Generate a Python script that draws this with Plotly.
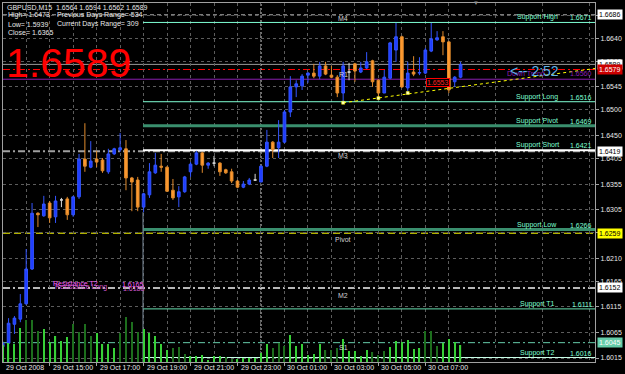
import plotly.graph_objects as go

# ---------------- data ----------------
bars = list(range(79))  # M15 bars from 29 Oct 2008 13:00
opens = [1.6037,1.6044,1.6081,1.6091,1.6121,1.6189,1.6298,1.6293,1.6318,1.6291,
         1.6324,1.6326,1.6295,1.6330,1.6404,1.6388,1.6404,1.6402,1.6379,1.6414,
         1.6422,1.6424,1.6367,1.6363,1.6310,1.6334,1.6377,1.6390,1.6388,1.6343,
         1.6330,1.6340,1.6379,1.6394,1.6416,1.6392,1.6396,1.6396,1.6383,1.6379,
         1.6361,1.6349,1.6355,1.6363,1.6359,1.6390,1.6437,1.6426,1.6437,1.6496,
         1.6545,1.6547,1.6568,1.6572,1.6566,1.6586,1.6568,1.6564,1.6533,1.6574,
         1.6590,1.6574,1.6582,1.6596,1.6558,1.6533,1.6562,1.6617,1.6643,1.6543,
         1.6574,1.6572,1.6572,1.6615,1.6637,1.6643,1.6633,1.6555,1.6564]
highs = [1.6048,1.6093,1.6097,1.6140,1.6228,1.6318,1.6300,1.6332,1.6322,1.6332,
         1.6328,1.6330,1.6332,1.6414,1.6474,1.6439,1.6420,1.6406,1.6424,1.6426,
         1.6455,1.6441,1.6369,1.6369,1.6338,1.6396,1.6416,1.6414,1.6390,1.6365,
         1.6351,1.6371,1.6398,1.6420,1.6418,1.6398,1.6410,1.6398,1.6385,1.6385,
         1.6363,1.6361,1.6367,1.6375,1.6392,1.6461,1.6439,1.6480,1.6500,1.6566,
         1.6558,1.6570,1.6574,1.6590,1.6594,1.6594,1.6586,1.6568,1.6594,1.6592,
         1.6592,1.6594,1.6613,1.6598,1.6560,1.6578,1.6633,1.6670,1.6645,1.6594,
         1.6605,1.6603,1.6621,1.6670,1.6654,1.6654,1.6635,1.6566,1.6594]
lows = [1.6033,1.6042,1.6062,1.6085,1.6119,1.6187,1.6271,1.6291,1.6279,1.6279,
        1.6310,1.6285,1.6291,1.6326,1.6379,1.6386,1.6388,1.6377,1.6375,1.6412,
        1.6418,1.6343,1.6302,1.6302,1.6300,1.6328,1.6375,1.6379,1.6340,1.6324,
        1.6310,1.6338,1.6369,1.6392,1.6377,1.6385,1.6390,1.6371,1.6375,1.6357,
        1.6347,1.6347,1.6353,1.6361,1.6359,1.6388,1.6406,1.6406,1.6435,1.6486,
        1.6525,1.6539,1.6553,1.6562,1.6560,1.6568,1.6562,1.6525,1.6514,1.6558,
        1.6555,1.6572,1.6580,1.6545,1.6523,1.6533,1.6560,1.6594,1.6543,1.6533,
        1.6566,1.6568,1.6570,1.6613,1.6635,1.6607,1.6533,1.6545,1.6562]
closes = [1.6044,1.6083,1.6093,1.6121,1.6189,1.6298,1.6295,1.6316,1.6289,1.6322,
          1.6324,1.6295,1.6330,1.6404,1.6390,1.6400,1.6398,1.6381,1.6414,1.6424,
          1.6426,1.6367,1.6359,1.6310,1.6336,1.6379,1.6392,1.6388,1.6341,1.6328,
          1.6340,1.6369,1.6394,1.6416,1.6392,1.6396,1.6396,1.6379,1.6377,1.6361,
          1.6349,1.6355,1.6363,1.6363,1.6390,1.6437,1.6422,1.6437,1.6496,1.6545,
          1.6551,1.6566,1.6572,1.6566,1.6586,1.6570,1.6564,1.6533,1.6586,1.6574,
          1.6576,1.6582,1.6594,1.6555,1.6533,1.6564,1.6631,1.6643,1.6545,1.6572,
          1.6570,1.6573,1.6617,1.6639,1.6641,1.6633,1.6539,1.6564,1.6589]
volumes = [170,190,180,340,420,420,310,330,200,260,
           210,250,380,300,380,260,290,180,180,140,
           290,450,400,300,330,290,260,180,120,140,
           150,80,60,60,70,20,60,60,50,30,
           30,40,40,40,90,180,140,190,160,270,
           160,180,70,80,180,120,120,140,230,110,
           110,60,120,100,70,110,150,210,200,220,
           130,140,310,310,160,190,230,200,170]
vol_dark_bars = [4,5,6,12,13,14,15,20,21,22,23,29,30,31,38,39,46,47,48,55,56,57,63,64,65,72,73,74]

time_label_bars = [0, 8, 16, 24, 32, 40, 48, 56, 64, 72]
time_labels = ["29 Oct 2008", "29 Oct 15:00", "29 Oct 17:00", "29 Oct 19:00", "29 Oct 21:00",
               "29 Oct 23:00", "30 Oct 01:00", "30 Oct 03:00", "30 Oct 05:00", "30 Oct 07:00"]
price_ticks = [1.6685, 1.6640, 1.6595, 1.6545, 1.6500, 1.6450, 1.6405, 1.6355, 1.6305,
               1.6260, 1.6210, 1.6165, 1.6115, 1.6065, 1.6015]

support_names = ["Support High", "Support Long", "Support Pivot", "Support Short",
                 "Support Low", "Support T1", "Support T2"]
support_values = [1.6671, 1.6516, 1.6469, 1.6421, 1.6266, 1.6111, 1.6016]
support_start_bar = 24

pivot_names = ["M4", "R1", "M3", "Pivot", "M2", "S1"]
pivot_label_prices = [1.6678, 1.6570, 1.6410, 1.6246, 1.6138, 1.6036]
pivot_label_bar = 58

box_values = [1.6686, 1.6589, 1.6579, 1.6419, 1.6259, 1.6152, 1.6045]

trend_bars = [58, 64, 69]
trend_lows = [1.6514, 1.6523, 1.6533]
trend_end = (100.9, 1.6581)

down_trend_value = 1.6560
price_label_value = 1.6553
price_label_bar = 74.1
day_separator_bar = 44

# ---------------- geometry ----------------
W, H = 625, 374
PL, PR, PT, PB = 3, 595, 3, 362
x_min, x_max = 0.05, 100.9
y_min, y_max = 1.60072, 1.67090


def pxx(px):
    return (px - PL) / (PR - PL)


def pxy(py):
    return (PB - py) / (PB - PT)


FONT = "Tahoma, Liberation Sans, Arial, sans-serif"
fig = go.Figure()

# volume (bottom histogram)
vol_colors = ["#1d6e1d" if i in vol_dark_bars else "#38d038" for i in bars]
fig.add_trace(go.Bar(x=bars, y=volumes, yaxis="y2", width=0.2,
                     marker=dict(color=vol_colors, line=dict(width=0)),
                     hoverinfo="skip"))

# regular candles / doji candles
is_doji = [o == c for o, c in zip(opens, closes)]
def pick(vals, keep):
    return [v if k else None for v, k in zip(vals, keep)]
not_doji = [not d for d in is_doji]
fig.add_trace(go.Candlestick(
    x=bars, open=pick(opens, not_doji), high=pick(highs, not_doji),
    low=pick(lows, not_doji), close=pick(closes, not_doji),
    increasing=dict(line=dict(color="#3355ff", width=1), fillcolor="#1e3cff"),
    decreasing=dict(line=dict(color="#e08a2c", width=1), fillcolor="#ff9a30"),
    whiskerwidth=0, hoverinfo="skip"))
fig.add_trace(go.Candlestick(
    x=bars, open=pick(opens, is_doji), high=pick(highs, is_doji),
    low=pick(lows, is_doji), close=pick(closes, is_doji),
    increasing=dict(line=dict(color="#d8d8d8", width=1), fillcolor="#d8d8d8"),
    decreasing=dict(line=dict(color="#d8d8d8", width=1), fillcolor="#d8d8d8"),
    whiskerwidth=0, hoverinfo="skip"))

# trend line
fig.add_trace(go.Scatter(x=[trend_bars[0], trend_end[0]], y=[trend_lows[0], trend_end[1]],
                         mode="lines", line=dict(color="#ffff00", width=1, dash="3px,3px"),
                         hoverinfo="skip"))
fig.add_trace(go.Scatter(x=trend_bars, y=trend_lows, mode="markers",
                         marker=dict(symbol="square", size=3, color="#ffffc0",
                                     line=dict(color="#ffff00", width=0.5)),
                         hoverinfo="skip"))

shapes = []
# full width level lines
full_lines = [
    (1.6686, "#a8a8a8", 1, "4px,3px"),
    (1.6589, "#9a9a9a", 1, "solid"),
    (1.6579, "#ff0000", 1, "7px,3px,2px,3px"),
    (down_trend_value, "#8a1fb0", 1, "solid"),
    (1.6419, "#a0a0a0", 2, "7px,3px,2px,3px"),
    (1.6259, "#ffff00", 1, "7px,4px"),
    (1.6152, "#b8b8b8", 2, "7px,3px,2px,3px"),
    (1.6045, "#66cdaa", 1, "7px,3px,2px,3px"),
]
for val, col, w, dash in full_lines:
    shapes.append(dict(type="line", xref="paper", yref="y", x0=0, x1=1, y0=val, y1=val,
                       line=dict(color=col, width=w, dash=dash), layer="between"))

support_styles = [("#7fffd4", 1), ("#7fffd4", 1), ("#3a8f6e", 3), ("#ffffff", 2),
                  ("#3a8f6e", 3), ("#66e0b0", 1), ("#c8ffe8", 1)]
for val, (col, w) in zip(support_values, support_styles):
    shapes.append(dict(type="line", xref="x", yref="y", x0=support_start_bar - 0.1, x1=x_max,
                       y0=val, y1=val, line=dict(color=col, width=w), layer="between"))

# vertical helper lines
shapes.append(dict(type="line", xref="x", yref="paper", x0=day_separator_bar, x1=day_separator_bar,
                   y0=0, y1=1, line=dict(color="#e0e0e0", width=1, dash="2px,2px"), layer="between"))
shapes.append(dict(type="line", xref="x", yref="y", x0=support_start_bar - 0.1, x1=support_start_bar - 0.1,
                   y0=y_min, y1=lows[support_start_bar], line=dict(color="#7a8a9a", width=1),
                   layer="between"))

ann = []
# header
hdr = dict(xref="paper", yref="paper", xanchor="left", yanchor="middle", showarrow=False,
           font=dict(family=FONT, size=7, color="#e8e8e8"))
ann.append(dict(hdr, x=pxx(5), y=pxy(7),
                text=f"GBPUSD,M15  {opens[-1]:.4f} {highs[-1]:.4f} {lows[-1]:.4f} {closes[-1]:.4f}"))
ann.append(dict(hdr, x=pxx(6), y=pxy(15), text="High= 1.6473"))
ann.append(dict(hdr, x=pxx(55), y=pxy(15), text="Previous Days Range= 534"))
ann.append(dict(hdr, x=pxx(6), y=pxy(24), text="Low= 1.5939"))
ann.append(dict(hdr, x=pxx(55), y=pxy(24), text="Current Days Range= 309"))
ann.append(dict(hdr, x=pxx(6), y=pxy(32), text="Close= 1.6365"))

# big price
ann.append(dict(xref="paper", yref="paper", x=pxx(4), y=pxy(63), xanchor="left", yanchor="middle",
                showarrow=False, text=f"{closes[-1]:.4f}",
                font=dict(family="Liberation Sans, Arial", size=41, color="#ff0000")))

# support labels
for name, val in zip(support_names, support_values):
    ann.append(dict(xref="paper", yref="y", x=pxx(537), y=val, xanchor="center", yanchor="bottom",
                    showarrow=False, text=name, yshift=-1,
                    font=dict(family=FONT, size=7, color="#7fffd4")))
    ann.append(dict(xref="paper", yref="y", x=pxx(594), y=val, xanchor="right", yanchor="bottom",
                    showarrow=False, text=f"{val:.4f}", yshift=-1,
                    font=dict(family=FONT, size=7, color="#7fffd4")))

# pivot labels
for name, val in zip(pivot_names, pivot_label_prices):
    ann.append(dict(xref="x", yref="y", x=pivot_label_bar, y=val, xanchor="center", yanchor="middle",
                    showarrow=False, text=name, font=dict(family=FONT, size=7, color="#d0d0d0")))

# right axis price boxes
box_style = {1.6686: ("#ffffff", "#000000"), 1.6589: ("#ffffff", "#000000"),
             1.6579: ("#cc0000", "#ffffff"), 1.6419: ("#ffffff", "#000000"),
             1.6259: ("#ffff00", "#000000"), 1.6152: ("#ffffff", "#000000"),
             1.6045: ("#66cdaa", "#ffffff")}
for val in box_values:
    bg, fg = box_style[val]
    ann.append(dict(xref="paper", yref="y", x=1, y=val, xanchor="left", yanchor="middle",
                    xshift=2, showarrow=False, text=f"{val:.4f}", bgcolor=bg, borderpad=1,
                    font=dict(family=FONT, size=7, color=fg)))

# time labels
for b, t in zip(time_label_bars, time_labels):
    ann.append(dict(xref="x", yref="paper", x=max(b, x_min), y=pxy(367.5), xanchor="left",
                    yanchor="middle", xshift=1, showarrow=False, text=t,
                    font=dict(family=FONT, size=7, color="#e8e8e8")))

# misc texts
ann.append(dict(xref="paper", yref="y", x=pxx(505), y=down_trend_value, xanchor="left",
                yanchor="bottom", showarrow=False, text="Down Trend",
                font=dict(family=FONT, size=7, color="#8a1fb0")))
ann.append(dict(xref="paper", yref="y", x=pxx(594), y=down_trend_value, xanchor="right",
                yanchor="bottom", showarrow=False, text=f"{down_trend_value:.4f}",
                font=dict(family=FONT, size=7, color="#8a1fb0")))
ann.append(dict(xref="paper", yref="paper", x=pxx(534), y=pxy(71), xanchor="center",
                yanchor="middle", showarrow=False, text="<-- 2:52",
                font=dict(family=FONT, size=14, color="#5fb0e8")))
ann.append(dict(xref="x", yref="y", x=price_label_bar, y=price_label_value, xanchor="center",
                yanchor="middle", showarrow=False, text=f"{price_label_value:.4f}",
                bgcolor="#000000", bordercolor="#ff0000", borderwidth=1, borderpad=0,
                font=dict(family=FONT, size=7, color="#ff2020")))
# overlapping magenta labels
for xx, yy, txt, col in [(51, 283, "Resistance T2", "#ff66ff"), (53, 287, "Resistance Long", "#cc55cc"),
                         (120, 284, "1.6165", "#ff66ff"), (121, 288, "1.6188", "#cc55cc")]:
    ann.append(dict(xref="paper", yref="paper", x=pxx(xx), y=pxy(yy), xanchor="left", yanchor="middle",
                    showarrow=False, text=txt, font=dict(family=FONT, size=7, color=col)))
ann.append(dict(xref="paper", yref="paper", x=pxx(476), y=pxy(3), xanchor="center", yanchor="middle",
                showarrow=False, text="▼", font=dict(family=FONT, size=6, color="#909090")))

grid_col = "#5c5c5c"
fig.update_layout(
    width=W, height=H, margin=dict(l=PL, r=W - PR, t=PT, b=H - PB),
    paper_bgcolor="#000000", plot_bgcolor="#000000", showlegend=False,
    boxgap=0.35,
    font=dict(family=FONT, size=7, color="#e8e8e8"),
    xaxis=dict(range=[x_min, x_max], rangeslider=dict(visible=False), tickmode="array",
               tickvals=time_label_bars, showticklabels=False, ticks="outside", ticklen=3,
               tickcolor="#a0a0a0", showgrid=True, gridcolor=grid_col, griddash="3px,3px",
               minor=dict(tickvals=list(range(4, 101, 8)), showgrid=True, gridcolor=grid_col,
                          griddash="3px,3px", ticks=""),
               showline=True, mirror=True, linecolor="#a0a0a0", linewidth=1, zeroline=False),
    yaxis=dict(range=[y_min, y_max], side="right", tickmode="array", tickvals=price_ticks,
               ticktext=[f"{v:.4f}" for v in price_ticks], ticks="outside", ticklen=3,
               tickcolor="#a0a0a0", tickfont=dict(family=FONT, size=7, color="#e8e8e8"),
               showgrid=True, gridcolor=grid_col, griddash="3px,3px",
               showline=True, mirror=True, linecolor="#a0a0a0", linewidth=1, zeroline=False),
    yaxis2=dict(range=[0, 3590], overlaying="y", visible=False),
    shapes=shapes, annotations=ann,
)

fig.write_html("out.html")
